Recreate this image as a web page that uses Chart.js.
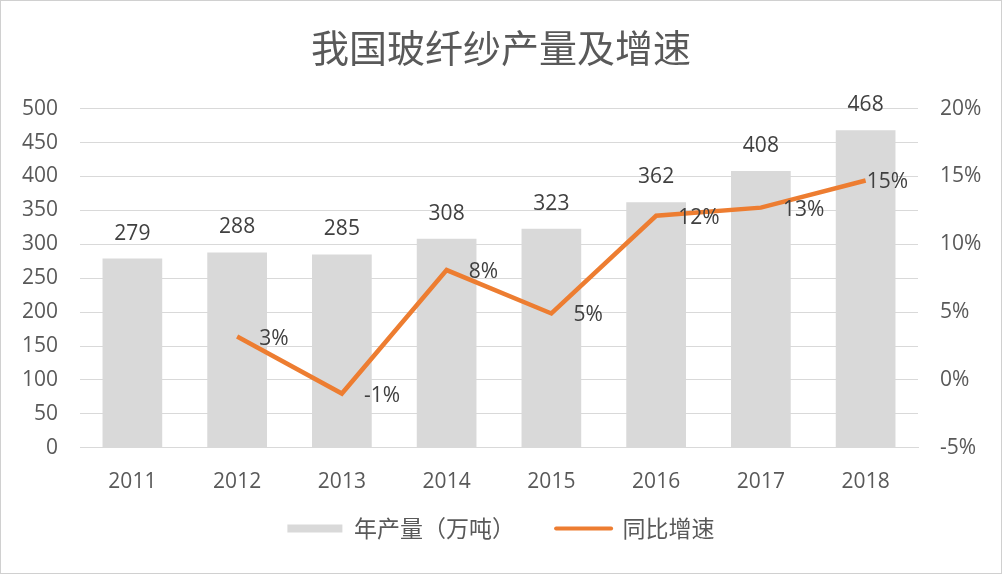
<!DOCTYPE html>
<html lang="zh-CN">
<head>
  <meta charset="UTF-8" />
  <title>我国玻纤纱产量及增速</title>
  <script src="https://cdn.jsdelivr.net/npm/chart.js"></script>
  <style>
    html, body { margin: 0; padding: 0; background: #fff; }
    .wrap {
      width: 1002px;
      height: 574px;
      box-sizing: border-box;
      border: 1px solid #d0d0d0;
      position: relative;
    }
  </style>
</head>
<body>

<div class="wrap">
  <canvas id="chart" width="1000" height="572"></canvas>
</div>

<script>
  // data
  const years = ['2011', '2012', '2013', '2014', '2015', '2016', '2017', '2018'];
  const output = [279, 288, 285, 308, 323, 362, 408, 468];          // 万吨
  const growth = [null, 3.2, -1.0, 8.1, 4.9, 12.1, 12.7, 14.7];     // %
  const growthLabels = [null, '3%', '-1%', '8%', '5%', '12%', '13%', '15%'];

  const FONT = "'Open Sans', 'Noto Sans CJK SC', sans-serif";
  const CJK = "'Noto Sans CJK SC', sans-serif";
  const TEXT = '#595959';

  // values above bars, percentages to the right of the line points
  const valueLabels = {
    id: 'valueLabels',
    afterDatasetsDraw(chart) {
      const ctx = chart.ctx;
      const area = chart.chartArea;
      ctx.save();
      ctx.font = '21px ' + FONT;
      ctx.fillStyle = '#404040';

      const bars = chart.getDatasetMeta(1).data;
      ctx.textAlign = 'center';
      ctx.textBaseline = 'middle';
      bars.forEach((bar, i) => {
        ctx.fillText(String(output[i]), bar.x, bar.y - 25);
      });

      const pts = chart.getDatasetMeta(0).data;
      ctx.textAlign = 'left';
      pts.forEach((p, i) => {
        const txt = growthLabels[i];
        if (!txt) return;
        let x = p.x + 22;
        const w = ctx.measureText(txt).width;
        if (x + w > area.right - 10) x = area.right - 10 - w;
        ctx.fillText(txt, x, p.y + 2);
      });
      ctx.restore();
    }
  };

  new Chart(document.getElementById('chart'), {
    data: {
      labels: years,
      datasets: [
        {
          type: 'line',
          label: '同比增速',
          data: growth,
          yAxisID: 'y1',
          borderColor: '#ed7d31',
          backgroundColor: '#ed7d31',
          borderWidth: 4.5,
          pointRadius: 0,
          tension: 0,
          spanGaps: false
        },
        {
          type: 'bar',
          label: '年产量（万吨）',
          data: output,
          yAxisID: 'y',
          backgroundColor: '#d9d9d9',
          barPercentage: 0.57,
          categoryPercentage: 1
        }
      ]
    },
    options: {
      responsive: false,
      animation: false,
      layout: { padding: { left: 0, right: 0, top: 0, bottom: 23 } },
      plugins: {
        title: {
          display: true,
          text: '我国玻纤纱产量及增速',
          color: TEXT,
          font: { family: CJK, size: 38, weight: 'normal' },
          padding: { top: 24, bottom: 38 }
        },
        legend: {
          position: 'bottom',
          labels: {
            color: TEXT,
            font: { family: CJK, size: 23 },
            usePointStyle: true,
            pointStyleWidth: 55,
            boxHeight: 8,
            padding: 0,
            generateLabels() {
              // trailing spaces give the gap between the two legend entries
              return [
                { text: '年产量（万吨）        ', pointStyle: 'rect', fillStyle: '#d9d9d9', strokeStyle: '#d9d9d9', lineWidth: 0, datasetIndex: 1, fontColor: TEXT },
                { text: '同比增速', pointStyle: 'line', fillStyle: '#ed7d31', strokeStyle: '#ed7d31', lineWidth: 4, lineCap: 'round', datasetIndex: 0, fontColor: TEXT }
              ];
            }
          }
        },
        tooltip: { enabled: false }
      },
      scales: {
        x: {
          grid: { display: false, drawTicks: false },
          border: { color: '#d9d9d9', width: 1 },
          ticks: { color: TEXT, font: { family: FONT, size: 21 }, padding: 22 }
        },
        y: {
          position: 'left',
          min: 0,
          max: 500,
          ticks: { stepSize: 50, color: TEXT, font: { family: FONT, size: 21 }, padding: 22 },
          grid: { color: '#d9d9d9', drawTicks: false },
          border: { display: false },
          afterFit(scale) { scale.width = 79; }
        },
        y1: {
          position: 'right',
          min: -5,
          max: 20,
          ticks: {
            stepSize: 5,
            color: TEXT,
            font: { family: FONT, size: 21 },
            padding: 22,
            callback: v => v + '%'
          },
          grid: { display: false, drawTicks: false },
          border: { display: false },
          afterFit(scale) { scale.width = 83; }
        }
      }
    },
    plugins: [valueLabels]
  });
</script>

</body>
</html>
